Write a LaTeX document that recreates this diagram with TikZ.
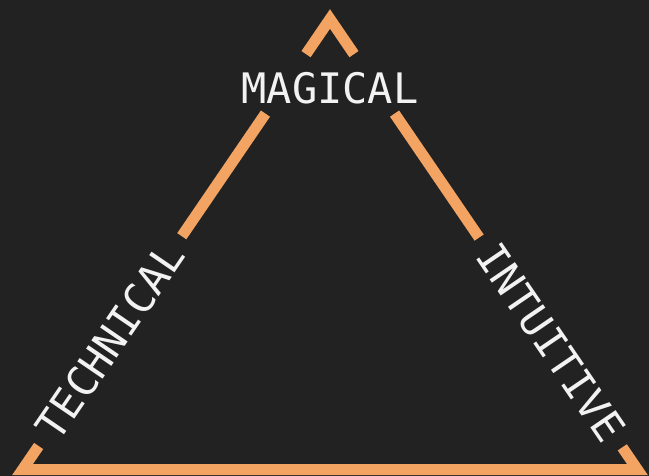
\documentclass[tikz,border=0pt]{standalone}
\usepackage{fontspec}
\setmonofont{DejaVu Sans Mono}
\usepackage{xcolor}
\usepackage{tikz}
\usetikzlibrary{calc}

\definecolor{bgdark}{HTML}{222222}
\definecolor{sandorange}{HTML}{F4A462}
\definecolor{chalk}{HTML}{F2F2F2}

\begin{document}
\begin{tikzpicture}[
        x=1pt, y=-1pt,
        % 1. STYLES
        % sides of the triangle (thick orange strokes)
        side/.style={draw=sandorange, line width=11pt, line cap=butt, line join=miter},
        % words that break the sides
        word/.style={text=chalk, font=\ttfamily\fontsize{42}{50}\selectfont,
            inner xsep=13pt, inner ysep=0pt}
    ]

        % background and frame
        \fill[bgdark] (0,0) rectangle (649,476);
        \useasboundingbox (0,0) rectangle (649,476);

        % 2. CORNERS
        \coordinate (apex) at (330,19);
        \coordinate (baseL) at (22.6,469.5);
        \coordinate (baseR) at (637.4,469.5);

        % 3. WORDS
        \node[word] (magical) at (330,88) {MAGICAL};
        \path (baseL) -- (apex) node[word, sloped, pos=0.285] (technical) {TECHNICAL};
        \path (apex) -- (baseR) node[word, sloped, pos=0.718] (intuitive) {INTUITIVE};

        % 4. SIDES
        \draw[side] ($(apex)!0.078!(baseL)$) -- (apex) -- ($(apex)!0.078!(baseR)$);
        \draw[side] ($(apex)!0.21!(baseL)$) -- (technical.east);
        \draw[side] (technical.west) -- (baseL) -- (baseR) -- (intuitive.east);
        \draw[side] ($(apex)!0.21!(baseR)$) -- (intuitive.west);

\end{tikzpicture}
\end{document}
